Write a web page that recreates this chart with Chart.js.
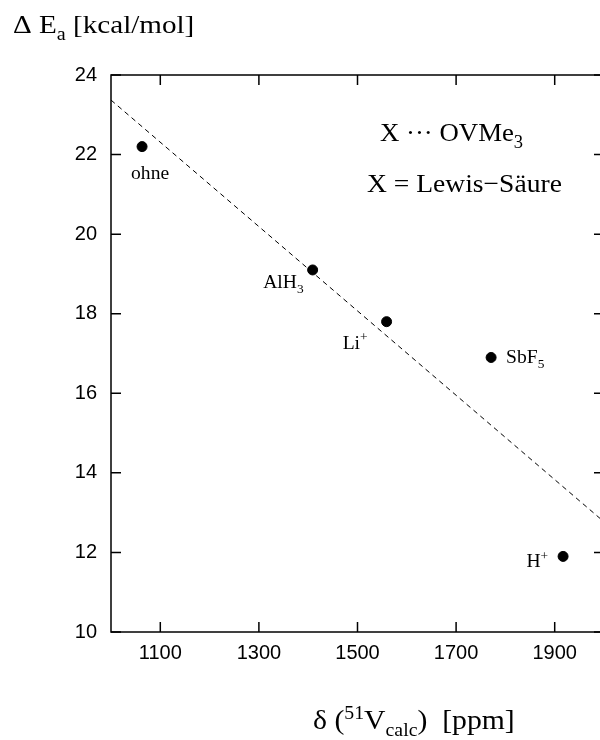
<!DOCTYPE html>
<html>
<head>
<meta charset="utf-8">
<script src="https://cdn.jsdelivr.net/npm/chart.js@4"></script>
<style>
  html, body { margin: 0; padding: 0; background: #fff; overflow: hidden; }
  #wrap { width: 612px; height: 740px; }
</style>
</head>
<body>
<div id="wrap"><canvas id="vChart" width="612" height="740"></canvas></div>
<script>
const acidNames = ['ohne', 'AlH3', 'Li+', 'SbF5', 'H+'];
const shiftPpm = [1063, 1409, 1559, 1771, 1917];
const deltaEa = [22.2, 19.1, 17.8, 16.9, 11.9];
const fitX = [1000, 2000];
const fitY = [23.37, 12.77];
const xTicks = [1100, 1300, 1500, 1700, 1900];
const yTicks = [10, 12, 14, 16, 18, 20, 22, 24];

const SERIF = '"Liberation Serif", "Times New Roman", serif';

// 'AlH3' -> AlH + subscript 3, 'Li+' -> Li + superscript +
function toParts(name) {
  const m = name.match(/^([A-Za-z]+?)(\d+|\+)?$/);
  if (!m || !m[2]) return [[name, '']];
  return [[m[1], ''], [m[2], m[2] === '+' ? 'sup' : 'sub']];
}

// draws text pieces with sub/superscripts, optionally stretched horizontally
function drawRich(ctx, parts, x, y, size, align, stretch) {
  const h = stretch || 1;
  const small = Math.round(size * 0.68);
  let total = 0;
  const widths = parts.map(p => {
    ctx.font = (p[1] ? small : size) + 'px ' + SERIF;
    const w = ctx.measureText(p[0]).width;
    total += w;
    return w;
  });
  const startX = align === 'right' ? x - total * h : (align === 'center' ? x - total * h / 2 : x);
  ctx.save();
  ctx.translate(startX, y);
  ctx.scale(h, 1);
  ctx.textAlign = 'left';
  ctx.textBaseline = 'alphabetic';
  let cx = 0;
  parts.forEach((p, i) => {
    ctx.font = (p[1] ? small : size) + 'px ' + SERIF;
    const dy = p[1] === 'sub' ? size * 0.25 : (p[1] === 'sup' ? -size * 0.38 : 0);
    ctx.fillText(p[0], cx, dy);
    cx += widths[i];
  });
  ctx.restore();
}

const framePlugin = {
  id: 'frame',
  afterDatasetsDraw(chart) {
    const { ctx, chartArea: a, scales } = chart;
    ctx.save();
    ctx.strokeStyle = '#000';
    ctx.lineWidth = 1.5;
    ctx.strokeRect(a.left, a.top, a.right - a.left, a.bottom - a.top);
    const len = 10;
    ctx.beginPath();
    xTicks.forEach(v => {
      const px = scales.x.getPixelForValue(v);
      ctx.moveTo(px, a.bottom); ctx.lineTo(px, a.bottom - len);
      ctx.moveTo(px, a.top); ctx.lineTo(px, a.top + len);
    });
    yTicks.forEach(v => {
      const py = scales.y.getPixelForValue(v);
      ctx.moveTo(a.left, py); ctx.lineTo(a.left + len, py);
      ctx.moveTo(a.right, py); ctx.lineTo(a.right - len, py);
    });
    ctx.stroke();
    ctx.restore();
  }
};

const textPlugin = {
  id: 'texts',
  afterDraw(chart) {
    const ctx = chart.ctx;
    const pts = chart.getDatasetMeta(0).data;
    // label placement next to each point: [dx, dy, align]
    const place = [[-11, 32, 'left'], [-9, 18, 'right'], [-19, 27, 'right'], [15, 6, 'left'], [-15, 11, 'right']];
    ctx.save();
    ctx.fillStyle = '#000';
    acidNames.forEach((name, i) => {
      const p = pts[i];
      const [dx, dy, al] = place[i];
      drawRich(ctx, toParts(name), p.x + dx, p.y + dy, 19, al, 1.03);
    });

    drawRich(ctx, [['X \u00B7\u00B7\u00B7 OVMe', ''], ['3', 'sub']], 380, 141, 26, 'left', 1.03);
    drawRich(ctx, [['X = Lewis\u2212S\u00E4ure', '']], 367, 192, 26, 'left', 1.06);

    drawRich(ctx, [['\u0394 E', ''], ['a', 'sub'], [' [kcal/mol]', '']], 13, 33, 26, 'left', 1.12);
    drawRich(ctx, [['\u03B4 (', ''], ['51', 'sup'], ['V', ''], ['calc', 'sub'], [')  [ppm]', '']], 313, 729, 27, 'left', 1.1);
    ctx.restore();
  }
};

const ctx = document.getElementById('vChart').getContext('2d');
new Chart(ctx, {
  type: 'scatter',
  data: {
    datasets: [
      {
        data: shiftPpm.map((x, i) => ({ x: x, y: deltaEa[i] })),
        backgroundColor: '#000',
        borderColor: '#000',
        pointRadius: 5,
        pointHoverRadius: 5
      },
      {
        type: 'line',
        data: fitX.map((x, i) => ({ x: x, y: fitY[i] })),
        borderColor: '#000',
        borderWidth: 1,
        borderDash: [5, 4],
        pointRadius: 0,
        fill: false
      }
    ]
  },
  options: {
    responsive: false,
    animation: false,
    events: [],
    layout: { padding: { left: 0, top: 75, right: 8, bottom: 0 } },
    plugins: { legend: { display: false }, tooltip: { enabled: false } },
    scales: {
      x: {
        type: 'linear',
        min: 1000,
        max: 2000,
        afterBuildTicks: s => { s.ticks = xTicks.map(v => ({ value: v })); },
        afterFit: s => { s.height = 108; },
        grid: { display: false, drawTicks: false },
        border: { display: false },
        ticks: {
          color: '#000', padding: 9, maxRotation: 0,
          font: { family: '"Liberation Sans", Arial, sans-serif', size: 20 },
          callback: v => String(v)
        }
      },
      y: {
        min: 10,
        max: 24,
        afterBuildTicks: s => { s.ticks = yTicks.map(v => ({ value: v })); },
        afterFit: s => { s.width = 111; },
        grid: { display: false, drawTicks: false },
        border: { display: false },
        ticks: {
          color: '#000', padding: 14,
          font: { family: '"Liberation Sans", Arial, sans-serif', size: 20 },
          callback: v => String(v)
        }
      }
    }
  },
  plugins: [framePlugin, textPlugin]
});
</script>
</body>
</html>
